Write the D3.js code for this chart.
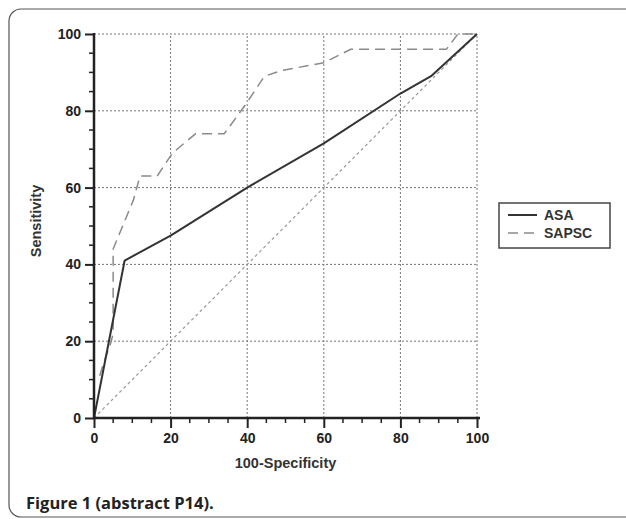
<!DOCTYPE html>
<html>
<head>
<meta charset="utf-8">
<script src="https://cdn.jsdelivr.net/npm/d3@7"></script>
<style>
  html, body { margin: 0; padding: 0; background: #fff; }
  svg { display: block; }
</style>
</head>
<body>
<svg id="chart" width="626" height="519"></svg>
<script>
// ---- data ----
const seriesNames = ["ASA", "SAPSC"];
const asaX = [0, 8, 20, 40, 60, 80, 88, 100];
const asaY = [0, 41, 47.5, 60, 71.5, 84.5, 89, 100];
const sapscX = [0, 0, 1.5, 2.4, 4.4, 5, 5, 10.3, 12, 16.5, 20.5, 26.5, 34, 39.5, 44.5, 49, 60, 67, 92, 95, 100];
const sapscY = [0, 11, 11, 14, 19.6, 22, 44, 56.8, 63, 63, 69, 74, 74, 81.5, 89, 90.5, 92.5, 96, 96, 100, 100];
const refX = [0, 100];
const refY = [0, 100];
const xTicks = [0, 20, 40, 60, 80, 100];
const yTicks = [0, 20, 40, 60, 80, 100];
const minorTicks = d3.range(0, 101, 5);
const xTitle = "100-Specificity";
const yTitle = "Sensitivity";
const caption = "Figure 1 (abstract P14).";

const svg = d3.select("#chart");

// outer frame
svg.append("rect")
  .attr("x", 9).attr("y", 9).attr("width", 660).attr("height", 508)
  .attr("rx", 12).attr("ry", 12)
  .attr("fill", "none").attr("stroke", "#555").attr("stroke-width", 1.2);

const x = d3.scaleLinear().domain([0, 100]).range([94, 477]);
const y = d3.scaleLinear().domain([0, 100]).range([418, 34]);

const tickFont = "'Liberation Sans', Arial, sans-serif";

// grid
const grid = svg.append("g");
grid.selectAll("line.vg").data(xTicks.filter(d => d > 0)).join("line")
  .attr("x1", d => x(d)).attr("x2", d => x(d))
  .attr("y1", y(0)).attr("y2", y(100))
  .attr("stroke", "#777").attr("stroke-width", 1).attr("stroke-dasharray", "2,2");
grid.selectAll("line.hg").data(yTicks.filter(d => d > 0)).join("line")
  .attr("y1", d => y(d)).attr("y2", d => y(d))
  .attr("x1", x(0)).attr("x2", x(100))
  .attr("stroke", "#777").attr("stroke-width", 1).attr("stroke-dasharray", "2,2");

// reference diagonal
const line = d3.line().x(d => x(d[0])).y(d => y(d[1]));
svg.append("path")
  .attr("d", line(refX.map((v, i) => [v, refY[i]])))
  .attr("fill", "none").attr("stroke", "#999").attr("stroke-width", 1.2)
  .attr("stroke-dasharray", "3,3");

// SAPSC
svg.append("path")
  .attr("d", line(sapscX.map((v, i) => [v, sapscY[i]])))
  .attr("fill", "none").attr("stroke", "#8a8a8a").attr("stroke-width", 1.5)
  .attr("stroke-dasharray", "10,6");

// ASA
svg.append("path")
  .attr("d", line(asaX.map((v, i) => [v, asaY[i]])))
  .attr("fill", "none").attr("stroke", "#333").attr("stroke-width", 2)
  .attr("stroke-linejoin", "round");

// axes
const xAxis = d3.axisBottom(x).tickValues(xTicks).tickSize(10).tickPadding(5).tickSizeOuter(0);
const yAxis = d3.axisLeft(y).tickValues(yTicks).tickSize(9).tickPadding(4).tickSizeOuter(0);

const gx = svg.append("g").attr("transform", `translate(0,${y(0)})`).call(xAxis);
const gy = svg.append("g").attr("transform", `translate(${x(0)},0)`).call(yAxis);

// minor ticks
gx.selectAll("line.minor").data(minorTicks.filter(d => d % 20 !== 0)).join("line")
  .attr("class", "minor")
  .attr("x1", d => x(d)).attr("x2", d => x(d)).attr("y1", 0).attr("y2", 5)
  .attr("stroke", "#222").attr("stroke-width", 1.5);
gy.selectAll("line.minor").data(minorTicks.filter(d => d % 20 !== 0)).join("line")
  .attr("class", "minor")
  .attr("y1", d => y(d)).attr("y2", d => y(d)).attr("x1", 0).attr("x2", -5)
  .attr("stroke", "#222").attr("stroke-width", 1.5);

[gx, gy].forEach(g => {
  g.select(".domain").attr("stroke", "#222").attr("stroke-width", 2.5);
  g.selectAll(".tick line").attr("stroke", "#222").attr("stroke-width", 2);
  g.selectAll(".tick text").attr("fill", "#222")
    .style("font-family", tickFont).style("font-weight", "bold").style("font-size", "14px");
});
// extend axis lines slightly
gx.select(".domain").attr("d", `M${x(0) - 1},0H${x(100) + 3}`);
gy.select(".domain").attr("d", `M0,${y(0) + 1}V${y(100) - 1}`);

// axis titles
svg.append("text")
  .attr("x", (x(0) + x(100)) / 2).attr("y", 468)
  .attr("text-anchor", "middle")
  .style("font-family", tickFont).style("font-weight", "bold").style("font-size", "14.5px")
  .attr("fill", "#333").text(xTitle);
svg.append("text")
  .attr("transform", `translate(41,${221}) rotate(-90)`)
  .attr("text-anchor", "middle")
  .style("font-family", tickFont).style("font-weight", "bold").style("font-size", "14.5px")
  .attr("fill", "#333").text(yTitle);

// legend
const lg = svg.append("g");
lg.append("rect").attr("x", 499).attr("y", 203).attr("width", 111).attr("height", 45)
  .attr("fill", "#fff").attr("stroke", "#444").attr("stroke-width", 1.5);
const legendStyles = [
  { stroke: "#333", width: 2, dash: null },
  { stroke: "#8a8a8a", width: 1.5, dash: "10,6" }
];
seriesNames.forEach((name, i) => {
  const yy = 215 + i * 18;
  lg.append("line").attr("x1", 508).attr("x2", 537).attr("y1", yy).attr("y2", yy)
    .attr("stroke", legendStyles[i].stroke).attr("stroke-width", legendStyles[i].width)
    .attr("stroke-dasharray", legendStyles[i].dash);
  lg.append("text").attr("x", 544).attr("y", yy + 5)
    .style("font-family", tickFont).style("font-weight", "bold").style("font-size", "14px")
    .attr("fill", "#333").text(name);
});

// caption
svg.append("text")
  .attr("x", 26).attr("y", 509)
  .style("font-family", "'Open Sans', sans-serif").style("font-weight", "bold").style("font-size", "16.5px")
  .attr("fill", "#222").text(caption);
</script>
</body>
</html>
